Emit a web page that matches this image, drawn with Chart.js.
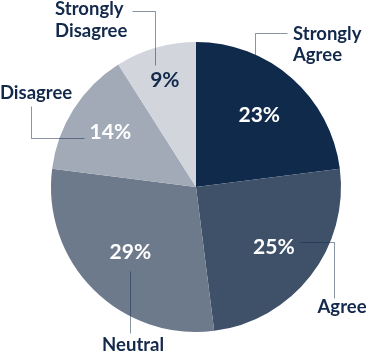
<!DOCTYPE html>
<html>
<head>
<meta charset="utf-8">
<script src="https://cdn.jsdelivr.net/npm/chart.js@4"></script>
<style>
  body { margin: 0; background: #fff; }
  #wrap { width: 368px; height: 353px; }
</style>
</head>
<body>
<div id="wrap"><canvas id="pie_Chart"></canvas></div>
<script>
// Daten
let categories = ['Strongly Agree', 'Agree', 'Neutral', 'Disagree', 'Strongly Disagree'];
let shares = [23, 25, 29, 14, 9];
let colors = ['#102a4c', '#3e5169', '#6c7a8b', '#a1aab6', '#d2d6dc'];
let pctColors = ['#ffffff', '#ffffff', '#ffffff', '#ffffff', '#13294b'];

// Label-Zeilen
let labelLines = [['Strongly', 'Agree'], ['Agree'], ['Neutral'], ['Disagree'], ['Strongly', 'Disagree']];

// Position der Prozentzahl (Anteil vom Radius, auf der Mitte des Stücks)
let pctRadius = [0.66, 0.68, 0.64, 0.70, 0.77];

// Führungslinien und Texte, relativ zu Mitte und Radius
let leaders = [
    { pts: [[0.407, -0.910], [0.407, -1.062], [0.628, -1.062]], tx: 0.669, ty: [-1.055, -0.910], align: 'left' },
    { pts: [[0.717, 0.379], [0.952, 0.379], [0.952, 0.766]], tx: 1.007, ty: [0.828], align: 'center' },
    { pts: [[-0.455, 0.579], [-0.455, 1.007]], tx: -0.434, ty: [1.090], align: 'center' },
    { pts: [[-1.138, -0.559], [-1.138, -0.338], [-0.772, -0.338]], tx: -1.352, ty: [-0.648], align: 'left' },
    { pts: [[-0.441, -1.214], [-0.283, -1.214], [-0.283, -0.841]], tx: -0.972, ty: [-1.228, -1.076], align: 'left' }
];

const labelPlugin = {
    id: 'labelPlugin',
    afterDatasetsDraw(chart) {
        const ctx = chart.ctx;
        const meta = chart.getDatasetMeta(0);
        const cx = meta.data[0].x;
        const cy = meta.data[0].y;
        const r = meta.data[0].outerRadius;
        ctx.save();

        // Führungslinien
        ctx.strokeStyle = 'rgba(19, 41, 75, 0.5)';
        ctx.lineWidth = 1;
        leaders.forEach(l => {
            ctx.beginPath();
            l.pts.forEach((p, i) => {
                let x = Math.round(cx + p[0] * r) + 0.5;
                let y = Math.round(cy + p[1] * r) + 0.5;
                if (i === 0) ctx.moveTo(x, y); else ctx.lineTo(x, y);
            });
            ctx.stroke();
        });

        // Kategorie-Texte
        ctx.fillStyle = '#13294b';
        ctx.font = 'bold 18.5px Lato';
        ctx.textBaseline = 'middle';
        leaders.forEach((l, i) => {
            ctx.textAlign = l.align;
            labelLines[i].forEach((line, j) => {
                ctx.fillText(line, cx + l.tx * r, cy + l.ty[j] * r);
            });
        });

        // Prozentzahlen
        ctx.font = 'bold 21px Lato';
        ctx.textAlign = 'center';
        meta.data.forEach((arc, i) => {
            let mid = (arc.startAngle + arc.endAngle) / 2;
            let x = cx + Math.cos(mid) * r * pctRadius[i];
            let y = cy + Math.sin(mid) * r * pctRadius[i];
            ctx.fillStyle = pctColors[i];
            ctx.fillText(shares[i] + '%', x, y);
        });
        ctx.restore();
    }
};

const pie_Chart = document.querySelector('#pie_Chart');

new Chart(pie_Chart, {
    type: 'pie',
    data: {
        labels: categories,
        datasets: [{
            data: shares,
            backgroundColor: colors,
            borderWidth: 0
        }]
    },
    options: {
        responsive: true,
        maintainAspectRatio: false,
        animation: false,
        layout: {
            padding: { left: 51, right: 27, top: 42, bottom: 21 }
        },
        plugins: {
            legend: { display: false },
            tooltip: { enabled: false }
        }
    },
    plugins: [labelPlugin]
});
</script>
</body>
</html>
